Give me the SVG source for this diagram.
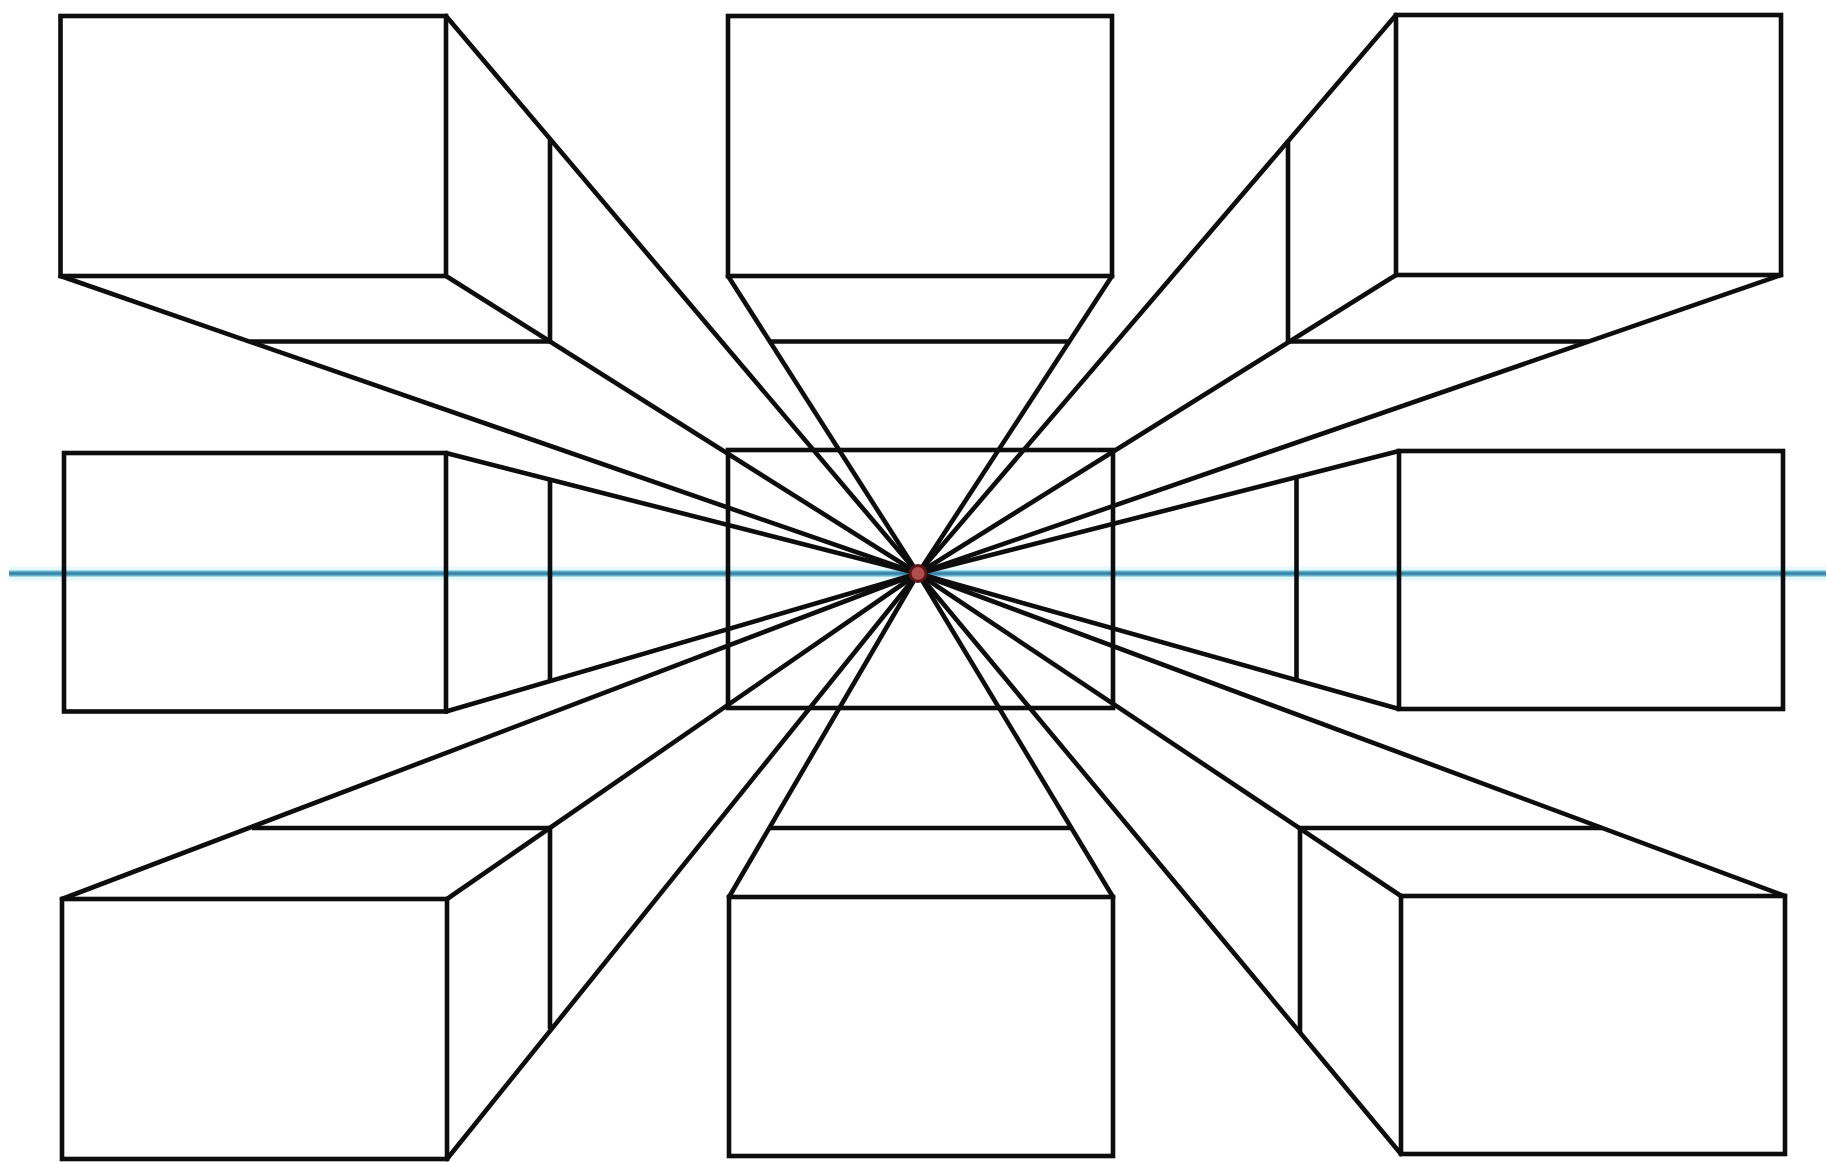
<svg xmlns="http://www.w3.org/2000/svg" width="1826" height="1162" viewBox="0 0 1826 1162">
<style>
.b{fill:none;stroke:#0d0d0d;stroke-width:4.6;stroke-linejoin:miter}
.c line{stroke:#0d0d0d;stroke-width:4.6;stroke-linecap:round}
</style>
<rect width="1826" height="1162" fill="#fff"/>
<g id="horizon">
<line x1="9" y1="573.5" x2="1826" y2="573.5" stroke="#e6f9fd" stroke-width="14"/>
<line x1="9" y1="573.5" x2="1826" y2="573.5" stroke="#62b2d0" stroke-width="6"/>
<line x1="9" y1="573.5" x2="1826" y2="573.5" stroke="#3a82a4" stroke-width="2.5"/>
</g>
<g id="connectors" class="c">
<line x1="446" y1="16" x2="918" y2="573.5"/>
<line x1="446" y1="276" x2="918" y2="573.5"/>
<line x1="60.5" y1="276" x2="918" y2="573.5"/>
<line x1="728" y1="276" x2="918" y2="573.5"/>
<line x1="1112" y1="276" x2="918" y2="573.5"/>
<line x1="1396" y1="15" x2="918" y2="573.5"/>
<line x1="1396" y1="275" x2="918" y2="573.5"/>
<line x1="1781" y1="275" x2="918" y2="573.5"/>
<line x1="446" y1="453" x2="918" y2="573.5"/>
<line x1="446" y1="711.5" x2="918" y2="573.5"/>
<line x1="1399" y1="451" x2="918" y2="573.5"/>
<line x1="1399" y1="709" x2="918" y2="573.5"/>
<line x1="62" y1="899" x2="918" y2="573.5"/>
<line x1="447" y1="899" x2="918" y2="573.5"/>
<line x1="447" y1="1159" x2="918" y2="573.5"/>
<line x1="729" y1="897" x2="918" y2="573.5"/>
<line x1="1113" y1="897" x2="918" y2="573.5"/>
<line x1="1401" y1="896" x2="918" y2="573.5"/>
<line x1="1401" y1="1154" x2="918" y2="573.5"/>
<line x1="1785" y1="896" x2="918" y2="573.5"/>
</g>
<g id="box-center"><rect class="b" x="728" y="450" width="385" height="258"/></g>
<g id="box-top-left"><rect class="b" x="60.5" y="16" width="385.5" height="260"/><path class="b" d="M550 140V341.5H250"/></g>
<g id="box-top-middle"><rect class="b" x="728" y="16" width="384" height="260"/><path class="b" d="M770 341.5H1070"/></g>
<g id="box-top-right"><rect class="b" x="1396" y="15" width="385" height="260"/><path class="b" d="M1288 140V341.5H1588"/></g>
<g id="box-middle-left"><rect class="b" x="64" y="453" width="382" height="258.5"/><path class="b" d="M550 480V682"/></g>
<g id="box-middle-right"><rect class="b" x="1399" y="451" width="384" height="258"/><path class="b" d="M1296.5 477.5V680"/></g>
<g id="box-bottom-left"><rect class="b" x="62" y="899" width="385" height="260"/><path class="b" d="M550 1029V828H252"/></g>
<g id="box-bottom-middle"><rect class="b" x="729" y="897" width="384" height="259"/><path class="b" d="M770 828H1070"/></g>
<g id="box-bottom-right"><rect class="b" x="1401" y="896" width="384" height="258"/><path class="b" d="M1300 1032V828H1602"/></g>
<g id="vanishing-point"><circle cx="918" cy="573.5" r="8" fill="#b0504e" stroke="#5a1414" stroke-width="3"/></g>
</svg>
